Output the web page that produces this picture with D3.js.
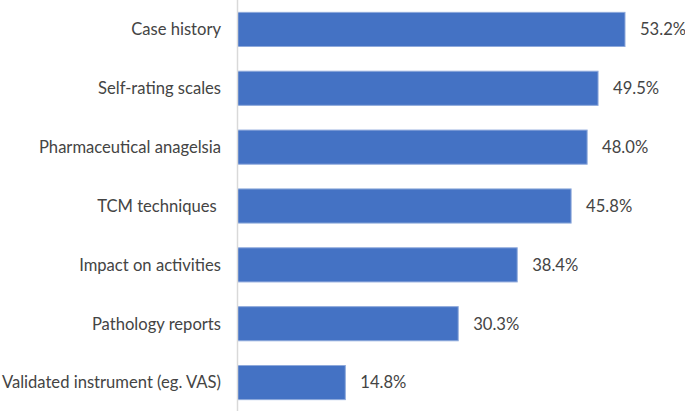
<!DOCTYPE html>
<html>
<head>
<meta charset="utf-8">
<script src="https://cdn.jsdelivr.net/npm/d3@7"></script>
<style>
  html, body { margin: 0; padding: 0; background: #fff; }
  svg { display: block; }
  text { font-family: Lato, "Open Sans", sans-serif; fill: #444; }
</style>
</head>
<body>
<svg id="chart" width="685" height="411"></svg>
<script>
const categories = [
  "Case history",
  "Self-rating scales",
  "Pharmaceutical anagelsia",
  "TCM techniques ",
  "Impact on activities",
  "Pathology reports",
  "Validated instrument (eg. VAS)"
];
const values = [53.2, 49.5, 48.0, 45.8, 38.4, 30.3, 14.8];
const valueLabels = ["53.2%", "49.5%", "48.0%", "45.8%", "38.4%", "30.3%", "14.8%"];

const W = 685, H = 411;
const x0 = 237.5;
const svg = d3.select("#chart");

const x = d3.scaleLinear().domain([0, 53.2]).range([x0, 625]);
const y = d3.scaleBand().domain(categories).range([0, 412]).paddingInner(0.42).paddingOuter(0.21);

// bars
svg.selectAll("rect.bar").data(values).enter().append("rect")
  .attr("class", "bar")
  .attr("x", x(0))
  .attr("y", (d, i) => y(categories[i]))
  .attr("width", d => x(d) - x(0))
  .attr("height", y.bandwidth())
  .attr("fill", "#4472C4")
  .attr("stroke", "#8EA9DB")
  .attr("stroke-width", 1);

// axis line
svg.append("line")
  .attr("x1", x0).attr("x2", x0)
  .attr("y1", 0).attr("y2", H)
  .attr("stroke", "#d9d9d9").attr("stroke-width", 1.5);

// category labels
svg.selectAll("text.cat").data(categories).enter().append("text")
  .attr("class", "cat")
  .attr("x", 221)
  .attr("y", d => y(d) + y.bandwidth() / 2)
  .attr("dy", "0.35em")
  .attr("text-anchor", "end")
  .style("white-space", "pre")
  .style("font-size", "16.6px")
  .text(d => d);

// value labels
svg.selectAll("text.val").data(values).enter().append("text")
  .attr("class", "val")
  .attr("x", d => x(d) + 15)
  .attr("y", (d, i) => y(categories[i]) + y.bandwidth() / 2)
  .attr("dy", "0.35em")
  .style("font-size", "16.6px")
  .text((d, i) => valueLabels[i]);
</script>
</body>
</html>
